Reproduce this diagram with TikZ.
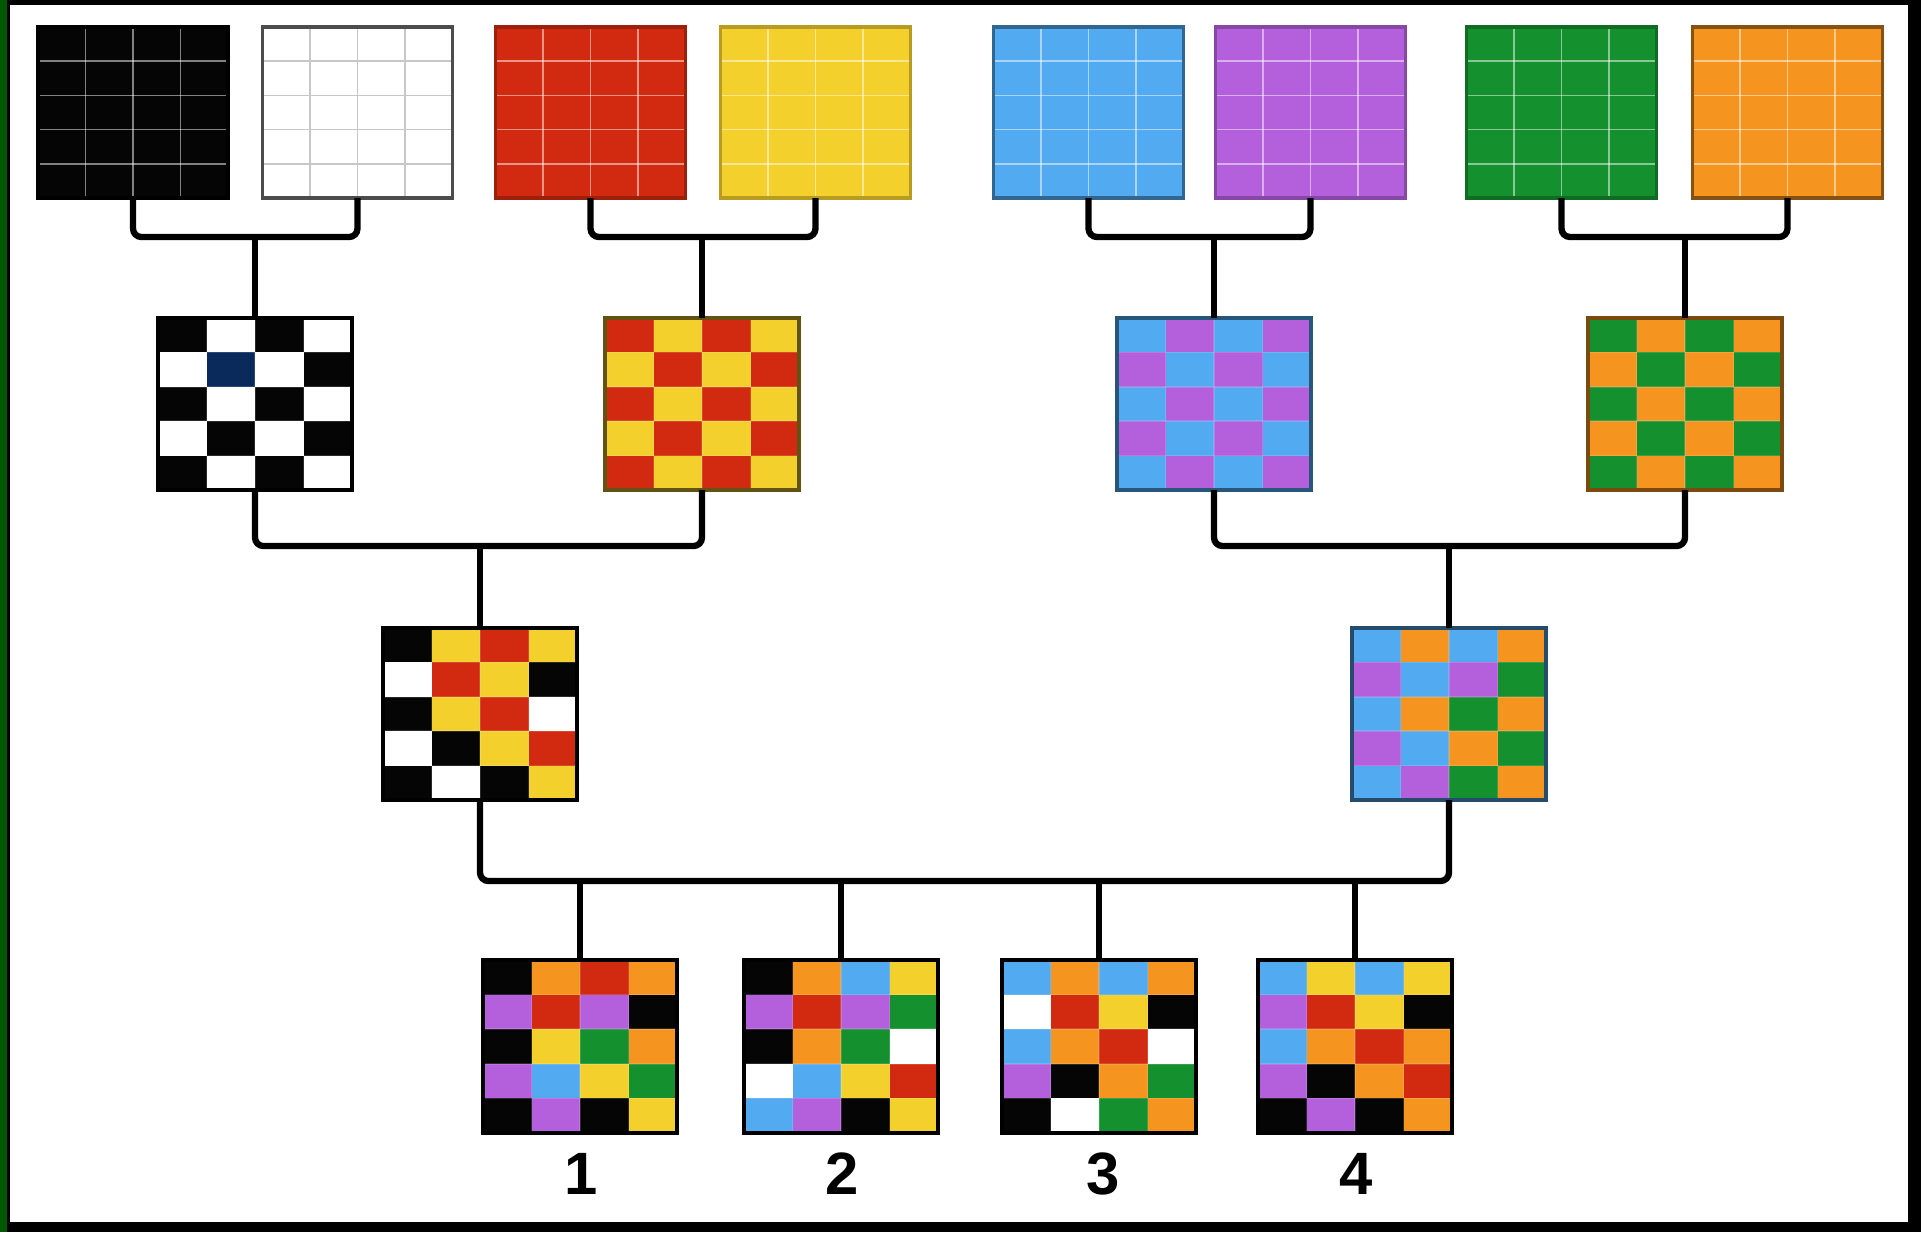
\documentclass[tikz,border=0pt]{standalone}
\usepackage{fontspec}
\newfontfamily\labfont{Liberation Sans}
\definecolor{cK}{HTML}{050505}
\definecolor{cW}{HTML}{FFFFFF}
\definecolor{cR}{HTML}{D22A10}
\definecolor{cY}{HTML}{F4D02C}
\definecolor{cB}{HTML}{52AAF0}
\definecolor{cP}{HTML}{B460DC}
\definecolor{cG}{HTML}{15902F}
\definecolor{cO}{HTML}{F5951F}
\definecolor{cN}{HTML}{0B2A5C}
\tikzset{
  conn/.style={line width=1.8pt, rounded corners=2.4pt},
  sep/.style={draw=white, draw opacity=.5, line width=0.5pt},
  gbox/.style={rectangle, inner sep=0pt, outer sep=0pt, line width=1pt},
  lab/.style={font=\labfont\bfseries\fontsize{17}{20}\selectfont, inner sep=0pt}
}
\newcommand\mygrid[7]{%
  \pgfmathsetmacro\gx{#2-#4/2}%
  \pgfmathsetmacro\gy{#3-#5/2}%
  \pgfmathsetmacro\cw{#4/4}%
  \pgfmathsetmacro\ch{#5/5}%
  \foreach \c [count=\i from 0] in {#7} {%
    \pgfmathtruncatemacro\gcol{mod(\i,4)}%
    \pgfmathtruncatemacro\grow{div(\i,4)}%
    \fill[fill=c\c] (\gx+\gcol*\cw, \gy+\grow*\ch) rectangle ++(\cw,\ch);
  }%
  \foreach \k in {1,2,3} \draw[sep] (\gx+\k*\cw,\gy) -- ++(0,#5);
  \foreach \k in {1,2,3,4} \draw[sep] (\gx,\gy+\k*\ch) -- ++(#4,0);
  \node[gbox, draw=#6, minimum width=#4*0.01cm, minimum height=#5*0.01cm] (#1) at (#2,#3) {};
}
\newcommand\solidsq[5]{% name, cx, cy, colour, border
  \pgfmathsetmacro\gx{#2-95}%
  \pgfmathsetmacro\gy{#3-85.5}%
  \fill[fill=#4] (\gx,\gy) rectangle ++(190,171);
  \foreach \k in {1,2,3} \draw[sep] (\gx+\k*47.5,\gy) -- ++(0,171);
  \foreach \k in {1,2,3,4} \draw[sep] (\gx,\gy+\k*34.2) -- ++(190,0);
  \node[gbox, draw=#5, minimum width=1.9cm, minimum height=1.71cm] (#1) at (#2,#3) {};
}
\begin{document}
\begin{tikzpicture}[x=0.01cm, y=-0.01cm]
\useasboundingbox (0,0) rectangle (1921,1232);
% frame
\fill[black] (0,0) rectangle (1921,1232);
\fill[green!35!black] (0,0) rectangle (7,1232);
\fill[white] (10,5) rectangle (1908,1222);

% top row
\solidsq{tK}{133}{112.5}{cK}{black}
\begin{scope}[sep/.style={draw=black!22, line width=0.5pt}]
\solidsq{tW}{357.5}{112.5}{cW}{black!70}
\end{scope}
\solidsq{tR}{590.5}{112.5}{cR}{cR!75!black}
\solidsq{tY}{815.5}{112.5}{cY}{cY!75!black}
\solidsq{tB}{1088.5}{112.5}{cB}{cB!60!black}
\solidsq{tP}{1310.5}{112.5}{cP}{cP!75!black}
\solidsq{tG}{1561.5}{112.5}{cG}{cG!75!black}
\solidsq{tO}{1787.5}{112.5}{cO}{cO!55!black}

% second row
\begin{scope}[sep/.style={draw=white, draw opacity=.15, line width=0.45pt}]
\mygrid{m1}{255}{404}{194}{172}{black}{K,W,K,W, W,N,W,K, K,W,K,W, W,K,W,K, K,W,K,W}
\mygrid{m2}{702}{404}{194}{172}{black!60!cY}{R,Y,R,Y, Y,R,Y,R, R,Y,R,Y, Y,R,Y,R, R,Y,R,Y}
\mygrid{m3}{1214}{404}{194}{172}{cB!50!black}{B,P,B,P, P,B,P,B, B,P,B,P, P,B,P,B, B,P,B,P}
\mygrid{m4}{1685}{404}{194}{172}{cO!50!black}{G,O,G,O, O,G,O,G, G,O,G,O, O,G,O,G, G,O,G,O}

% third row
\mygrid{s1}{480}{714}{194}{172}{black}{K,Y,R,Y, W,R,Y,K, K,Y,R,W, W,K,Y,R, K,W,K,Y}
\mygrid{s2}{1449}{714}{194}{172}{cB!45!black}{B,O,B,O, P,B,P,G, B,O,G,O, P,B,O,G, B,P,G,O}

% bottom row
\mygrid{b1}{580}{1046.5}{194}{173}{black}{K,O,R,O, P,R,P,K, K,Y,G,O, P,B,Y,G, K,P,K,Y}
\mygrid{b2}{841}{1046.5}{194}{173}{black}{K,O,B,Y, P,R,P,G, K,O,G,W, W,B,Y,R, B,P,K,Y}
\mygrid{b3}{1099}{1046.5}{194}{173}{black}{B,O,B,O, W,R,Y,K, B,O,R,W, P,K,O,G, K,W,G,O}
\mygrid{b4}{1355}{1046.5}{194}{173}{black}{B,Y,B,Y, P,R,Y,K, B,O,R,O, P,K,O,R, K,P,K,O}
\end{scope}

% labels
\node[lab] (l1) at (581,1174) {1};
\node[lab] (l2) at (842,1174) {2};
\node[lab] (l3) at (1103,1174) {3};
\node[lab] (l4) at (1356,1174) {4};

% connector levels
\coordinate (h1) at (0,237);
\coordinate (h2) at (0,546);
\coordinate (h3) at (0,881);

% top pairs
\draw[conn] (tK.south) -- (tK.south |- h1) -| (tW.south);
\draw[conn] (tR.south) -- (tR.south |- h1) -| (tY.south);
\draw[conn] (tB.south) -- (tB.south |- h1) -| (tP.south);
\draw[conn] (tG.south) -- (tG.south |- h1) -| (tO.south);
\draw[conn] (m1.north) -- (m1.north |- h1);
\draw[conn] (m2.north) -- (m2.north |- h1);
\draw[conn] (m3.north) -- (m3.north |- h1);
\draw[conn] (m4.north) -- (m4.north |- h1);

% second level
\draw[conn] (m1.south) -- (m1.south |- h2) -| (m2.south);
\draw[conn] (m3.south) -- (m3.south |- h2) -| (m4.south);
\draw[conn] (s1.north) -- (s1.north |- h2);
\draw[conn] (s2.north) -- (s2.north |- h2);

% third level
\draw[conn] (s1.south) -- (s1.south |- h3) -| (s2.south);
\draw[conn] (b1.north) -- (b1.north |- h3);
\draw[conn] (b2.north) -- (b2.north |- h3);
\draw[conn] (b3.north) -- (b3.north |- h3);
\draw[conn] (b4.north) -- (b4.north |- h3);
\end{tikzpicture}
\end{document}
